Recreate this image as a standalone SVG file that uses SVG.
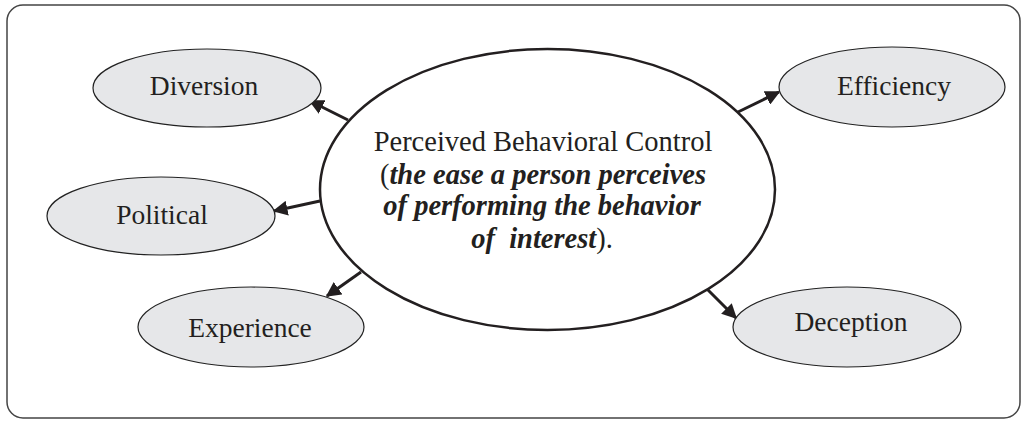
<svg xmlns="http://www.w3.org/2000/svg" width="1027" height="424" viewBox="0 0 1027 424">
<defs>
<style>
.node{fill:#e6e7e9;stroke:#222;stroke-width:1.2}
.lbl{font-family:"Liberation Serif","Times New Roman",serif;font-size:27.5px;fill:#231f20;text-anchor:middle}
.ctr{font-family:"Liberation Serif","Times New Roman",serif;font-size:28.5px;fill:#231f20;text-anchor:middle}
.bi{font-weight:bold;font-style:italic}
.conn line{stroke:#231f20;stroke-width:3;marker-end:url(#ah)}
</style>
<marker id="ah" viewBox="0 0 10 10" refX="9" refY="5" markerWidth="5" markerHeight="5" markerUnits="strokeWidth" orient="auto">
<path d="M0,0 L10,5 L0,10 z" fill="#231f20"/>
</marker>
</defs>
<rect x="7" y="5" width="1013" height="413" rx="16" ry="16" fill="#fff" stroke="#444" stroke-width="1.5"/>
<g id="connectors" class="conn">
<line x1="348" y1="120" x2="310" y2="101"/>
<line x1="320" y1="201" x2="274" y2="211"/>
<line x1="361" y1="272" x2="327" y2="296"/>
<line x1="707" y1="289" x2="736" y2="318"/>
<line x1="738" y1="112" x2="779" y2="92"/>
</g>
<g id="center">
<ellipse cx="547.5" cy="189.5" rx="227.5" ry="140.5" fill="#fff" stroke="#231f20" stroke-width="2.5"/>
<text class="ctr" x="543" y="151">Perceived Behavioral Control</text>
<text class="ctr" x="543" y="184">(<tspan class="bi">the ease a person perceives</tspan></text>
<text class="ctr bi" x="542" y="215">of performing the behavior</text>
<text class="ctr" x="542" y="248" xml:space="preserve"><tspan class="bi">of  interest</tspan>).</text>
</g>
<g id="diversion">
<ellipse class="node" cx="207" cy="88" rx="114" ry="39"/>
<text class="lbl" x="204" y="95">Diversion</text>
</g>
<g id="political">
<ellipse class="node" cx="161" cy="216" rx="114" ry="39"/>
<text class="lbl" x="162" y="224">Political</text>
</g>
<g id="experience">
<ellipse class="node" cx="251" cy="327" rx="113" ry="40"/>
<text class="lbl" x="250" y="337">Experience</text>
</g>
<g id="deception">
<ellipse class="node" cx="847" cy="327" rx="114" ry="40"/>
<text class="lbl" x="851" y="331">Deception</text>
</g>
<g id="efficiency">
<ellipse class="node" cx="892" cy="87" rx="113" ry="40"/>
<text class="lbl" x="894" y="95">Efficiency</text>
</g>
</svg>
